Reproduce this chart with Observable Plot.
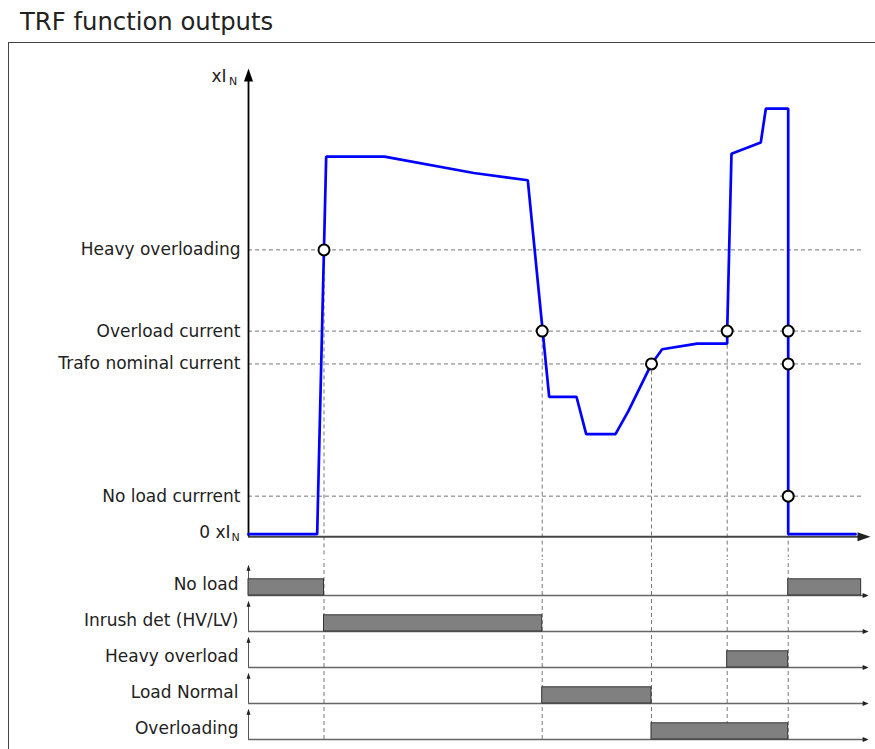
<!DOCTYPE html>
<html><head><meta charset="utf-8">
<script src="https://cdn.jsdelivr.net/npm/d3@7"></script>
<script src="https://cdn.jsdelivr.net/npm/@observablehq/plot@0.6"></script>
<style>
body{margin:0;background:#fff;font-family:"DejaVu Sans",sans-serif;}
#title{position:absolute;left:20px;top:7px;font-size:24.3px;color:#222;white-space:nowrap;}
#box{position:absolute;left:8px;top:42px;width:867px;height:707px;border-top:1px solid #444;border-left:1px solid #444;box-sizing:border-box;}
#topPlot{position:absolute;left:0;top:42px;}
#bottomPlot{position:absolute;left:0;top:557px;}
</style></head><body>
<div id="title">TRF function outputs</div>
<div id="box"></div>
<div id="topPlot"></div><div id="bottomPlot"></div>
<script>
// ---- data (time in arbitrary units, current in xIN) ----
const curveTime = [0, 11.04, 12.49, 21.86, 36.22, 44.9, 48.34, 52.73, 54.29, 59.0, 61.09, 64.79, 66.51, 72.14, 76.96, 76.96, 77.65, 82.36, 83.17, 86.77, 86.77, 97.59];
const curveCurrent = [0.015, 0.015, 2.20, 2.20, 2.105, 2.063, 0.81, 0.81, 0.594, 0.594, 0.728, 1.0, 1.085, 1.118, 1.118, 1.19, 2.216, 2.281, 2.477, 2.477, 0.015, 0.015];

const levelNames = ["Heavy overloading", "Overload current", "Trafo nominal current", "No load currrent"];
const levelValues = [1.66, 1.19, 1.0, 0.235];

const eventTimes = [12.14, 47.22, 64.79, 76.96, 86.77];
const eventLevels = [1.66, 1.19, 1.0, 1.19, 1.19];

const circleTimes = [12.14, 47.22, 64.79, 76.96, 86.77, 86.77, 86.77];
const circleLevels = [1.66, 1.19, 1.0, 1.19, 1.19, 1.0, 0.235];

const rows = ["No load", "Inrush det (HV/LV)", "Heavy overload", "Load Normal", "Overloading"];
const pulseRow = ["No load", "No load", "Inrush det (HV/LV)", "Heavy overload", "Load Normal", "Overloading"];
const pulseStart = [0, 86.77, 12.14, 76.96, 47.22, 64.79];
const pulseEnd = [12.14, 98.5, 47.22, 86.77, 64.79, 86.77];

const timeMax = 100, lineEnd = 98.87, axisEnd = 98.3, yTop = 2.75, yBottom = -0.12, yArrowTip = 2.71;

// ---- tables ----
const curve = curveTime.map((t, i) => ({t, i: curveCurrent[i]}));
const levels = levelNames.map((name, k) => ({name, v: levelValues[k]}));
const events = eventTimes.map((t, k) => ({t, v: eventLevels[k]}));
const circles = circleTimes.map((t, k) => ({t, v: circleLevels[k]}));
const pulses = pulseRow.map((row, k) => ({row, a: pulseStart[k], b: pulseEnd[k]}));
const rowLabels = rows.map(row => ({row}));

function tri(dir, len, wid) {
  return {draw(ctx) {
    if (dir === "up") { ctx.moveTo(0, 0); ctx.lineTo(-wid / 2, len); ctx.lineTo(wid / 2, len); ctx.closePath(); }
    else { ctx.moveTo(0, 0); ctx.lineTo(-len, -wid / 2); ctx.lineTo(-len, wid / 2); ctx.closePath(); }
  }};
}

const font = {fontFamily: "DejaVu Sans", fontSize: 17, fill: "#222"};

const topChart = Plot.plot({
  width: 875, height: 515,
  marginLeft: 248, marginRight: 5, marginTop: 19, marginBottom: 0,
  x: {domain: [0, timeMax], axis: null},
  y: {domain: [yBottom, yTop], axis: null},
  style: {background: "transparent", overflow: "visible", fontFamily: "DejaVu Sans"},
  marks: [
    Plot.ruleY(levels, {y: "v", x1: () => 0, x2: () => lineEnd, stroke: "#777", strokeWidth: 1, strokeDasharray: "4,3"}),
    Plot.ruleX(events, {x: "t", y1: "v", y2: () => yBottom, stroke: "#777", strokeWidth: 1, strokeDasharray: "4,3"}),
    Plot.ruleY([0], {y: d => d, x1: () => 0, x2: () => axisEnd, stroke: "#444", strokeWidth: 2.2}),
    Plot.dot([timeMax], {x: d => d, y: () => 0, symbol: tri("right", 13, 9), fill: "#222", stroke: "none"}),
    Plot.ruleX([0], {x: d => d, y1: () => 0, y2: () => yArrowTip - 0.05, stroke: "#000", strokeWidth: 1.8}),
    Plot.dot([0], {x: d => d, y: () => yArrowTip, symbol: tri("up", 13, 9), fill: "#000", stroke: "none"}),
    Plot.line(curve, {x: "t", y: "i", stroke: "#0000ff", strokeWidth: 2.7, strokeLinejoin: "miter"}),
    Plot.dot(circles, {x: "t", y: "v", r: 5.5, fill: "white", stroke: "#000", strokeWidth: 2}),
    Plot.text(levels, {x: () => 0, y: "v", text: "name", textAnchor: "end", dx: -8, ...font}),
    Plot.text(["0 xI"], {x: () => 0, y: () => 0, text: d => d, textAnchor: "end", dx: -18, dy: -4, ...font}),
    Plot.text(["N"], {x: () => 0, y: () => 0, text: d => d, textAnchor: "start", dx: -17, dy: 1, fontFamily: "DejaVu Sans", fontSize: 11, fill: "#222"}),
    Plot.text(["xI"], {x: () => 0, y: () => 2.663, text: d => d, textAnchor: "end", dx: -22, ...font}),
    Plot.text(["N"], {x: () => 0, y: () => 2.663, text: d => d, textAnchor: "start", dx: -19.5, dy: 5, fontFamily: "DejaVu Sans", fontSize: 11, fill: "#222"})
  ]
});
document.getElementById("topPlot").append(topChart);

const bottomChart = Plot.plot({
  width: 875, height: 183,
  marginLeft: 248, marginRight: 5, marginTop: 0, marginBottom: 0,
  x: {domain: [0, timeMax], axis: null},
  y: {domain: [0, 1], axis: null},
  fy: {domain: rows, padding: 0, axis: null},
  facet: {marginTop: 0, marginBottom: 0, marginLeft: 248, marginRight: 5},
  style: {background: "transparent", overflow: "visible", fontFamily: "DejaVu Sans"},
  marks: [
    Plot.ruleX(eventTimes, {x: d => d, y1: () => 0, y2: () => 1, stroke: "#777", strokeWidth: 1, strokeDasharray: "4,3"}),
    Plot.ruleY([0], {y: d => d, x1: () => 0, x2: () => 99.2, stroke: "#666", strokeWidth: 1.3}),
    Plot.dot([99.7], {x: d => d, y: () => 0, symbol: tri("right", 6, 5), fill: "#222", stroke: "none"}),
    Plot.ruleX([0], {x: d => d, y1: () => 0, y2: () => 0.8, stroke: "#555", strokeWidth: 1}),
    Plot.dot([0], {x: d => d, y: () => 0.855, symbol: tri("up", 6, 4), fill: "#222", stroke: "none"}),
    Plot.rect(pulses, {fy: "row", x1: "a", x2: "b", y1: () => 0, y2: () => 0.45, fill: "#808080", stroke: "#333", strokeWidth: 1}),
    Plot.text(rowLabels, {fy: "row", x: () => 0, y: () => 0.31, text: "row", textAnchor: "end", dx: -10, ...font})
  ]
});
document.getElementById("bottomPlot").append(bottomChart);
</script>
</body></html>
